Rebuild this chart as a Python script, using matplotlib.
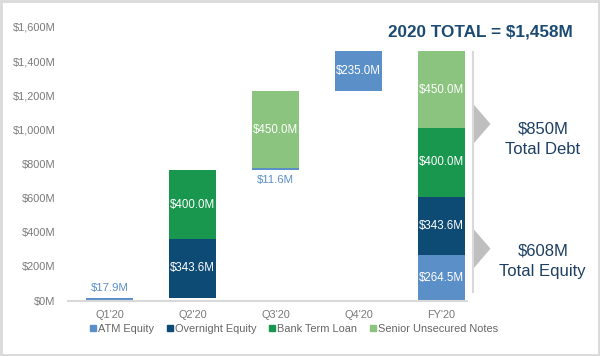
import matplotlib
matplotlib.use("Agg")
import matplotlib.pyplot as plt
import numpy as np
from matplotlib.lines import Line2D
from matplotlib.patches import Polygon, Rectangle

plt.rcParams['font.family'] = ['Liberation Sans', 'DejaVu Sans']

categories = ["Q1'20", "Q2'20", "Q3'20", "Q4'20", "FY'20"]
atm_equity = [17.9, 0.0, 11.6, 235.0, 264.5]
overnight_equity = [0.0, 343.6, 0.0, 0.0, 343.6]
bank_term_loan = [0.0, 400.0, 0.0, 0.0, 400.0]
senior_notes = [0.0, 0.0, 450.0, 0.0, 450.0]
series_names = ["ATM Equity", "Overnight Equity", "Bank Term Loan", "Senior Unsecured Notes"]
yticks = [0, 200, 400, 600, 800, 1000, 1200, 1400, 1600]
total_label = "2020 TOTAL = $1,458M"
debt_text = "$850M\nTotal Debt"
equity_text = "$608M\nTotal Equity"

colors = ["#5b8fc8", "#0e4b74", "#1a974f", "#8ac47e"]
series = [atm_equity, overnight_equity, bank_term_loan, senior_notes]

fig = plt.figure(figsize=(6.0, 3.56), dpi=100)
ax = fig.add_axes([68/600, (356-300.7)/356, 399/600, 273.7/356])

x = np.arange(len(categories))
totals = np.sum(np.array(series), axis=0)
# waterfall bases: quarters accumulate, FY starts at zero
base = np.zeros(len(categories))
base[1:4] = np.cumsum(totals[:3])
base[4] = 0.0

width = 0.57
bottom = base.copy()
for vals, col, name in zip(series, colors, series_names):
    vals = np.array(vals)
    ax.bar(x, vals, width, bottom=bottom, color=col, edgecolor='none', linewidth=0)
    for i, v in enumerate(vals):
        if v <= 0:
            continue
        if v < 50:
            if i == 0:
                ax.text(x[i], bottom[i] + v + 25, f"${v:.1f}M", ha='center', va='bottom',
                        color=colors[0], fontsize=8.2)
            else:
                ax.text(x[i], bottom[i] - 25, f"${v:.1f}M", ha='center', va='top',
                        color=colors[0], fontsize=8.2)
        else:
            ax.text(x[i], bottom[i] + v / 2, f"${v:.1f}M", ha='center', va='center',
                    color='white', fontsize=8.3)
    bottom = bottom + vals

ax.set_xlim(-0.5, 4.307)
ax.set_ylim(0, 1600)
ax.set_yticks(yticks)
ax.set_yticklabels([f"${v:,}M" for v in yticks])
ax.set_xticks(x)
ax.set_xticklabels(categories)
ax.tick_params(axis='both', length=0, labelsize=7.9, colors='#7a7a7a')
ax.tick_params(axis='y', pad=9)
ax.tick_params(axis='x', pad=6.5)
for s in ['top', 'right', 'left']:
    ax.spines[s].set_visible(False)
ax.spines['bottom'].set_color('#d9d9d9')
ax.spines['bottom'].set_linewidth(1.5)

# right-side bracket and chevrons
equity_total = atm_equity[4] + overnight_equity[4]
debt_total = bank_term_loan[4] + senior_notes[4]
grand = equity_total + debt_total
xl = 4.38
ax.plot([xl, xl], [50, grand - 5], color='#d9d9d9', lw=1.5, clip_on=False)
for mid in [equity_total / 2, equity_total + debt_total / 2]:
    tri = Polygon([[xl, mid + 118], [xl + 0.21, mid], [xl, mid - 118]], closed=True,
                  facecolor='#bfbfbf', edgecolor='none', clip_on=False)
    ax.add_patch(tri)
ax.text(5.22, equity_total + debt_total / 2 - 88, debt_text, ha='center', va='center',
        fontsize=12, color='#1d3f62', linespacing=1.45, clip_on=False)
ax.text(5.22, equity_total / 2 - 72, equity_text, ha='center', va='center',
        fontsize=12, color='#1d3f62', linespacing=1.45, clip_on=False)

fig.text(480/600, (356-32)/356, total_label, ha='center', va='center', fontsize=12.3,
         fontweight='bold', color='#1b4a72')

handles = [Line2D([0], [0], marker='s', linestyle='none', markersize=4.5,
                  markerfacecolor=c, markeredgecolor=c) for c in colors]
fig.legend(handles, series_names, loc='center', bbox_to_anchor=(294/600, (356-329)/356),
           ncol=4, frameon=False, fontsize=7.9, handlelength=0.5, handletextpad=0.2,
           columnspacing=1.2, labelcolor='#666666', borderaxespad=0)

fig.add_artist(Rectangle((0.002, 0.003), 0.996, 0.994, transform=fig.transFigure,
                         fill=False, edgecolor='#d9d9d9', linewidth=2))

fig.savefig("out.png", dpi=100)
